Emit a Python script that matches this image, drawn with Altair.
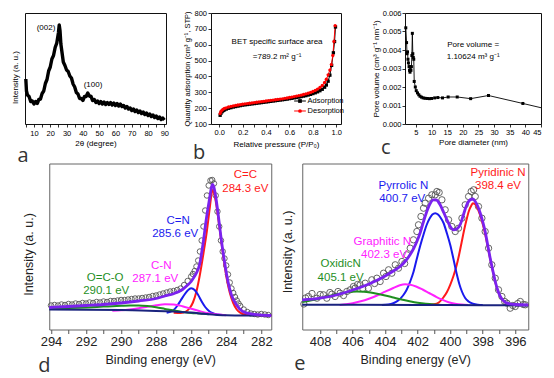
import altair as alt
import pandas as pd

FONT = "Liberation Sans"
LFONT = "Open Sans"

# ---------------- (a) XRD pattern ----------------
xrd_2theta = [5, 5.4, 6, 7, 8, 9, 10, 11, 12, 13, 14, 15, 16, 17, 18, 19, 20, 21, 22, 23, 24, 25, 25.5,
              26, 26.5, 27, 28, 29, 30, 31, 32, 33, 34, 35, 36, 37, 38, 39, 40, 41, 42, 43, 44, 45, 46,
              47, 48, 49, 50, 51, 52, 53, 54, 55, 56, 57, 58, 59, 60, 61, 62, 63, 64, 65, 66, 67, 68,
              69, 70, 71, 72, 73, 74, 75, 76, 77, 78, 79, 80, 81, 82, 83, 84, 85, 86, 87, 88, 89, 90]
xrd_intensity = [45, 33, 29, 27.5, 22.5, 23, 20, 22.5, 20.5, 24.5, 25, 30.5, 33, 40.5, 44.5, 53, 57, 65,
                 68.5, 76.5, 81, 91, 99, 93, 80, 74, 62, 58.5, 54, 52.5, 48, 46, 40, 37, 31.5, 30, 25.5,
                 25.5, 23.5, 27.5, 27.5, 31, 28, 27.5, 23.5, 24.5, 21.5, 23, 20.5, 22.5, 20, 22, 19.5,
                 21.5, 19.5, 21.5, 19, 21, 18.5, 20.5, 18, 20, 17.5, 18.5, 16, 17.5, 15, 16, 13.5, 15,
                 12.5, 14, 11.5, 13, 10.5, 12, 9.5, 11, 8.5, 10, 7.5, 9, 6.5, 8, 5.5, 7, 4.5, 6, 4]
xrd_peaks = ["(002)", "(100)"]

# ---------------- (b) N2 isotherm ----------------
ads_p = [0.008, 0.015, 0.025, 0.035, 0.045, 0.06, 0.08, 0.10, 0.12, 0.14, 0.16, 0.18, 0.20, 0.22, 0.24,
         0.26, 0.28, 0.30, 0.32, 0.34, 0.36, 0.38, 0.40, 0.42, 0.44, 0.46, 0.48, 0.50, 0.52, 0.54, 0.56,
         0.58, 0.60, 0.62, 0.64, 0.66, 0.68, 0.70, 0.72, 0.74, 0.76, 0.78, 0.80, 0.82, 0.84, 0.86, 0.88,
         0.90, 0.915, 0.93, 0.945, 0.96, 0.975, 0.985, 0.993]
ads_q = [155, 168, 178, 185, 189, 194, 199, 203, 207, 210, 213, 216, 219, 221, 223, 225, 227, 229, 231,
         233, 235, 237, 239, 241, 243, 245, 247, 249, 251, 253, 255, 257, 260, 262, 265, 267, 270, 273,
         276, 279, 283, 287, 292, 297, 303, 310, 319, 332, 346, 370, 408, 470, 549, 620, 712]
des_p = [0.008, 0.015, 0.025, 0.035, 0.045, 0.06, 0.08, 0.10, 0.12, 0.14, 0.16, 0.18, 0.20, 0.22, 0.24,
         0.26, 0.28, 0.30, 0.32, 0.34, 0.36, 0.38, 0.40, 0.42, 0.44, 0.46, 0.48, 0.50, 0.52, 0.54, 0.56,
         0.58, 0.60, 0.62, 0.64, 0.66, 0.68, 0.70, 0.72, 0.74, 0.76, 0.78, 0.80, 0.82, 0.84, 0.86, 0.88,
         0.90, 0.915, 0.93, 0.945, 0.958, 0.97, 0.98, 0.99]
des_q = [166, 179, 188, 194, 198, 202, 207, 211, 214, 217, 220, 222, 225, 227, 229, 231, 233, 235, 237,
         239, 241, 243, 245, 247, 249, 251, 253, 255, 257, 259, 262, 264, 267, 270, 273, 276, 279, 282,
         286, 290, 294, 299, 305, 312, 320, 330, 343, 362, 382, 410, 440, 475, 532, 621, 720]
iso_series = ["Adsorption", "Desorption"]

# ---------------- (c) pore size distribution ----------------
pore_d = [1.75, 2.0, 2.15, 2.3, 2.45, 2.6, 2.8, 2.95, 3.1, 3.25, 3.4, 3.55, 3.7, 3.85, 4.0, 4.15, 4.3,
          4.45, 4.8, 5.1, 5.5, 5.9, 6.3, 6.8, 7.3, 7.9, 8.6, 9.3, 10.0, 11.0, 12.0, 13.5, 15.3, 18.2,
          22.5, 28.2, 39.2, 45.0]
pore_v = [0.0052, 0.0044, 0.0038, 0.0039, 0.0035, 0.0033, 0.0031, 0.0029, 0.0028, 0.0031, 0.0029,
          0.0031, 0.0037, 0.0049, 0.0038, 0.0036, 0.0035, 0.0023, 0.0020, 0.0018, 0.00168, 0.00158,
          0.0015, 0.00145, 0.00141, 0.00139, 0.00138, 0.00137, 0.00138, 0.00141, 0.00143, 0.00141,
          0.00146, 0.00146, 0.00137, 0.00154, 0.00111, 0.00088]

# ---------------- (d) C 1s XPS ----------------
c1s_exp_E = [294.0, 293.8, 293.6, 293.4, 293.2, 293.0, 292.8, 292.6, 292.4, 292.2, 292.0, 291.8, 291.6,
             291.4, 291.2, 291.0, 290.8, 290.6, 290.4, 290.2, 290.0, 289.8, 289.6, 289.4, 289.2, 289.0,
             288.8, 288.6, 288.4, 288.2, 288.0, 287.8, 287.6, 287.4, 287.2, 287.0, 286.8, 286.6, 286.4,
             286.2, 286.0, 285.9, 285.8, 285.7, 285.6, 285.5, 285.4, 285.3, 285.2, 285.1, 285.0, 284.9,
             284.8, 284.7, 284.6, 284.5, 284.4, 284.3, 284.2, 284.1, 284.0, 283.9, 283.8, 283.7, 283.6,
             283.5, 283.4, 283.3, 283.2, 283.0, 282.8, 282.6, 282.4, 282.2, 282.0, 281.8, 281.6]
c1s_exp_I = [24, 24.5, 24, 25, 24.5, 25.5, 25, 26, 25.5, 26.5, 26, 27, 26.5, 27.5, 27, 28, 27.5, 28.5,
             28.5, 29, 29.5, 29.5, 30, 30.5, 31, 31, 31.5, 32, 32.5, 33.5, 34, 35, 36, 37, 38, 38.5,
             39.5, 41, 44.5, 48.5, 53, 55.5, 58.5, 63, 69, 78, 89, 103, 119, 134, 144, 149, 149.5, 146,
             134, 118, 103, 89, 78, 71, 64, 55, 47, 41, 36.5, 32.5, 29, 26, 23.5, 20, 17.5, 16, 15.5,
             15, 15.5, 15, 14.5]
c1s_env_E = [294.1, 293.0, 292.0, 291.0, 290.0, 289.0, 288.0, 287.5, 287.0, 286.5, 286.2, 286.0, 285.85,
             285.7, 285.52, 285.33, 285.14, 284.95, 284.85, 284.78, 284.7, 284.6, 284.48, 284.29, 284.1,
             283.9, 283.71, 283.43, 283.05, 282.48, 281.43]
c1s_env_I = [22, 23, 24, 25, 26.5, 28.5, 31, 33.5, 35.8, 40, 44.5, 48, 52, 56.5, 65, 85, 110, 131, 141.5,
             145, 142, 133, 118, 91, 68, 48, 35, 25, 18, 15.3, 14]
c1s_cc_E = [287.0, 286.6, 286.3, 286.1, 285.9, 285.7, 285.5, 285.3, 285.1, 284.95, 284.85, 284.78, 284.7,
            284.55, 284.4, 284.25, 284.1, 283.95, 283.8, 283.6, 283.4, 283.2, 283.0, 282.5, 281.43]
c1s_cc_I = [16.8, 16.5, 18, 21, 27, 38, 55, 76, 99, 120, 134, 139.5, 137, 123, 104, 84, 65, 49, 37, 26.5,
            20, 16.8, 15.2, 14.5, 14]
c1s_cn_E = [287.4, 287.2, 287.0, 286.8, 286.6, 286.4, 286.2, 286.0, 285.8, 285.6, 285.4, 285.2, 285.0,
            284.8, 284.5, 284.2]
c1s_cn_I = [16.8, 17.6, 19.5, 23.5, 29, 34.5, 39, 41.3, 39.5, 34.5, 28, 22.5, 18.8, 16.5, 15, 14.5]
c1s_csn_E = [290.5, 290.0, 289.5, 289.0, 288.5, 288.0, 287.5, 287.0, 286.5, 286.0, 285.5, 285.0, 284.5, 284.0]
c1s_csn_I = [18.8, 19.2, 20, 21.2, 22.7, 24.2, 25.3, 25, 23.3, 20.8, 18.3, 16.2, 15, 14.3]
c1s_oco_E = [294.1, 293.0, 292.0, 291.0, 290.0, 289.5, 289.0, 288.5, 288.0, 287.5, 287.0, 286.5, 286.0,
             285.5, 285.0]
c1s_oco_I = [21, 21.5, 22.1, 22.9, 23.7, 24, 24, 23.4, 22.2, 20.6, 19, 17.6, 16.6, 16, 15.3]
c1s_bg_E = [294.1, 292.0, 290.0, 288.0, 287.0, 286.0, 285.5, 285.0, 284.5, 284.0, 283.0, 281.43]
c1s_bg_I = [20, 19.8, 19.4, 18.6, 17.9, 16.9, 16.1, 15.2, 14.6, 14.2, 14, 14]
c1s_labels = ["C=C", "284.3 eV", "C=N", "285.6 eV", "C-N", "287.1 eV", "O=C-O", "290.1 eV"]

# ---------------- (e) N 1s XPS ----------------
n1s_exp_E = [409.0, 408.9, 408.72, 408.5, 408.2, 408.0, 407.8, 407.59, 407.4, 407.28, 407.08, 406.9,
             406.77, 406.56, 406.36, 406.15, 405.95, 405.85, 405.7, 405.54, 405.38, 405.23, 405.03,
             404.82, 404.65, 404.51, 404.31, 404.1, 403.95, 403.79, 403.59, 403.38, 403.18, 402.97,
             402.8, 402.67, 402.46, 402.26, 402.05, 401.95, 401.8, 401.64, 401.54, 401.33, 401.13,
             400.92, 400.82, 400.68, 400.51, 400.31, 400.1, 399.9, 399.69, 399.49, 399.28, 399.08,
             398.87, 398.71, 398.56, 398.46, 398.26, 398.05, 397.85, 397.64, 397.44, 397.23, 397.03,
             396.82, 396.65, 396.51, 396.31, 396.15, 396.0, 395.85, 395.69, 395.5, 395.38]
n1s_exp_I = [25.5, 31.5, 33, 36, 31.3, 35, 34.7, 31.3, 37, 35.3, 33, 38, 36.3, 34, 38, 39.7, 43, 41.3,
             45, 44.7, 41, 46.3, 41.3, 49.7, 46, 51.3, 48, 56.3, 53, 59.7, 56.3, 64.7, 61.3, 68, 66,
             74.7, 81.3, 89.7, 98, 104.7, 113, 121.3, 126.3, 131.3, 134.7, 134.7, 138, 137, 129.7,
             119.7, 109.7, 103, 98, 101.3, 111.3, 124.7, 133, 138, 139.7, 133, 123, 111.3, 98, 81.3,
             64.7, 51.3, 39.7, 33, 28, 26.3, 21.3, 24, 23, 26, 28, 25, 24.7]
n1s_env_E = [409.1, 408.0, 407.0, 406.0, 405.0, 404.0, 403.5, 403.08, 402.75, 402.46, 402.25, 402.05,
             401.84, 401.64, 401.45, 401.25, 401.03, 400.85, 400.62, 400.4, 400.2, 400.0, 399.8, 399.6,
             399.38, 399.2, 399.0, 398.77, 398.6, 398.46, 398.3, 398.15, 398.0, 397.85, 397.7, 397.54,
             397.38, 397.23, 397.08, 396.92, 396.7, 396.51, 396.0, 395.2]
n1s_env_I = [29.5, 31.3, 34.5, 39.5, 45.5, 53.5, 58.5, 63, 68.5, 75, 81, 88, 97, 108, 117.5, 125.5,
             129.7, 129.5, 124.7, 117, 109.7, 103, 99.7, 100.5, 105, 114, 124, 129.7, 130.5, 128, 123,
             116.3, 108, 98, 85, 71.3, 59, 48, 39.5, 33, 28.5, 26.3, 25, 24.7]
n1s_pyd_E = [401.4, 401.0, 400.7, 400.4, 400.2, 400.0, 399.8, 399.6, 399.45, 399.3, 399.15, 399.0, 398.85,
             398.7, 398.6, 398.45, 398.3, 398.15, 398.0, 397.85, 397.7, 397.54, 397.38, 397.23, 397.08,
             396.92, 396.7, 396.5, 396.2, 395.8, 395.2]
n1s_pyd_I = [24.6, 25.2, 27, 32.5, 37.5, 44.7, 53.5, 64.5, 75, 87, 99, 109.5, 118.5, 124, 126.3, 125,
             120.5, 114, 105.5, 95.5, 83.5, 70.5, 58.5, 47.5, 39, 33, 28.3, 26, 25, 24.6, 24.5]
n1s_pyr_E = [404.2, 403.8, 403.5, 403.2, 402.9, 402.7, 402.46, 402.25, 402.05, 401.84, 401.64, 401.45,
             401.25, 401.1, 400.92, 400.75, 400.6, 400.41, 400.2, 400.0, 399.8, 399.59, 399.43, 399.28,
             399.08, 398.87, 398.6, 398.3, 398.0]
n1s_pyr_I = [24.5, 25, 26.3, 29, 34, 39, 48, 58, 71, 84, 95, 104.5, 111.5, 115, 116.3, 115, 112, 106.5,
             96, 84.7, 70.5, 55, 45, 38, 31.5, 28, 25.8, 24.8, 24.5]
n1s_gra_E = [406.8, 406.4, 406.0, 405.5, 405.0, 404.5, 404.0, 403.5, 403.1, 402.77, 402.45, 402.1,
             401.7, 401.3, 400.9, 400.5, 400.1, 399.7, 399.3, 398.9]
n1s_gra_I = [24.6, 25.3, 26.3, 28.2, 30.8, 34, 37.8, 41.5, 44.3, 45.3, 44.8, 43, 40, 36.5, 33, 29.8,
             27.3, 25.8, 24.9, 24.5]
n1s_oxi_E = [409.1, 408.6, 408.1, 407.6, 407.1, 406.6, 406.1, 405.74, 405.3, 404.9, 404.5, 404.0, 403.5,
             403.0, 402.5, 402.0, 401.5, 401.0, 400.5, 400.0]
n1s_oxi_I = [27.5, 29, 30.8, 32.8, 34.8, 36.5, 37.7, 38, 37.8, 37, 35.8, 34, 32, 30, 28.3, 26.8, 25.7,
             25, 24.6, 24.4]
n1s_bg_E = [409.1, 402.0, 398.0, 395.2]
n1s_bg_I = [24.8, 24.6, 24.3, 24.1]
n1s_labels = ["Pyridinic N", "398.4 eV", "Pyrrolic N", "400.7 eV", "Graphitic N", "402.3 eV",
              "OxidicN", "405.1 eV"]

panel_letters = ["a", "b", "c", "d", "e"]

RED, BLUE, MAG, GRN, PUR, NAVY = "#ff1a1a", "#1a1aee", "#ff22ff", "#1f8f1f", "#7b22ee", "#1a237e"


def top_axis(title, **kw):
    d = dict(title=title, grid=False, domain=False, labelFont=FONT, titleFont=FONT,
             titleFontWeight="normal", labelFontSize=7.5, titleFontSize=8, labelColor="#000",
             titleColor="#000", tickColor="#000", tickSize=3, tickWidth=0.8, labelOverlap=False)
    d.update(kw)
    return alt.Axis(**d)


def bot_axis(title, **kw):
    d = dict(title=title, grid=False, domain=False, labelFont=FONT, titleFont=FONT,
             titleFontWeight="normal", labelFontSize=13, titleFontSize=12.5, labelColor="#222",
             titleColor="#222", tickColor="#555", tickSize=4, tickWidth=1, labelOverlap=False)
    d.update(kw)
    return alt.Axis(**d)


def letter(t, orient, dx, dy):
    return alt.TitleParams(t, orient=orient, anchor="start", frame="group", font=LFONT,
                           fontSize=20, fontWeight="normal", color="#333", dx=dx, dy=dy,
                           offset=0, baseline="alphabetic")


TOPVIEW = alt.ViewBackground(stroke="#111", strokeWidth=1)
BOTVIEW = alt.ViewBackground(stroke="#666", strokeWidth=1)

# ---- panel a ----
df_a = pd.DataFrame({"x": xrd_2theta, "y": xrd_intensity})
xa = alt.X("x:Q", scale=alt.Scale(domain=[4.5, 91], nice=False, zero=False),
           axis=top_axis("2θ (degree)", values=list(range(5, 91, 5)),
                         labelExpr="datum.value % 10 == 0 ? datum.label : ''",
                         labelPadding=2, titlePadding=2.5))
ya = alt.Y("y:Q", scale=alt.Scale(domain=[0, 111], nice=False, zero=False),
           axis=top_axis("Intensity (a. u.)", labels=False, ticks=False, titlePadding=5.25, titleY=64))
a_line = alt.Chart(df_a).mark_line(color="black", strokeWidth=3.4, strokeJoin="round").encode(x=xa, y=ya)
a_lab = alt.Chart(pd.DataFrame({"x": [17.4, 46.2], "y": [96, 39], "t": xrd_peaks})).mark_text(
    font=FONT, fontSize=8, color="black").encode(x=xa, y=ya, text="t:N")
panel_a = alt.layer(a_line, a_lab).properties(width=141, height=111, view=TOPVIEW)

# ---- panel b ----
df_b = pd.concat([pd.DataFrame({"p": ads_p, "q": ads_q, "s": iso_series[0]}),
                  pd.DataFrame({"p": des_p, "q": des_q, "s": iso_series[1]})])
xb = alt.X("p:Q", scale=alt.Scale(domain=[-0.07, 1.04], nice=False, zero=False),
           axis=top_axis("Relative pressure (P/P₀)",
                         values=[0, 0.1, 0.2, 0.3, 0.4, 0.5, 0.6, 0.7, 0.8, 0.9, 1.0],
                         labelExpr="round(datum.value*10) % 2 == 0 ? format(datum.value, '.1f') : ''",
                         labelPadding=1.5, titlePadding=4))
yb = alt.Y("q:Q", scale=alt.Scale(domain=[100, 800], nice=False, zero=False),
           axis=top_axis("Quantity adsorption (cm³ g⁻¹, STP)",
                         values=[100, 200, 300, 400, 500, 600, 700, 800], labelPadding=1.5,
                         titlePadding=2.5, titleFontSize=7.5))
cscale_b = alt.Scale(domain=iso_series, range=["#000000", "#ff0000"])
sscale_b = alt.Scale(domain=iso_series, range=["square", "circle"])
b_line = alt.Chart(df_b).mark_line(strokeWidth=1).encode(
    x=xb, y=yb, color=alt.Color("s:N", scale=cscale_b, legend=None), order="p:Q")
b_pts = alt.Chart(df_b).mark_point(filled=True, size=11, opacity=1).encode(
    x=xb, y=yb, color=alt.Color("s:N", scale=cscale_b, legend=None),
    shape=alt.Shape("s:N", scale=sscale_b, legend=None))
b_lab = alt.Chart(pd.DataFrame({"p": [0.494, 0.494], "q": [617, 522],
                                "t": ["BET specific surface area", "=789.2 m² g⁻¹"]})).mark_text(
    font=FONT, fontSize=8, color="black").encode(x=xb, y=yb, text="t:N")
# in-plot key (line + marker + name), drawn through the same scales
key_rows = pd.DataFrame({"p": [0.64, 0.64], "p2": [0.74, 0.74], "q": [245, 182], "s": iso_series})
key_pts = pd.DataFrame({"p": [0.69, 0.69], "q": [245, 182], "s": iso_series})
key_txt = pd.DataFrame({"p": [0.755, 0.755], "q": [245, 182], "s": iso_series})
b_key_line = alt.Chart(key_rows).mark_rule(strokeWidth=1).encode(
    x=xb, x2="p2:Q", y=yb, color=alt.Color("s:N", scale=cscale_b, legend=None))
b_key_pts = alt.Chart(key_pts).mark_point(filled=True, size=14, opacity=1).encode(
    x=xb, y=yb, color=alt.Color("s:N", scale=cscale_b, legend=None),
    shape=alt.Shape("s:N", scale=sscale_b, legend=None))
b_key_txt = alt.Chart(key_txt).mark_text(font=FONT, fontSize=7.5, align="left", baseline="middle",
                                         color="black").encode(x=xb, y=yb, text="s:N")
panel_b = alt.layer(b_line, b_pts, b_lab, b_key_line, b_key_pts, b_key_txt).properties(
    width=130, height=111, view=TOPVIEW)

# ---- panel c ----
df_c = pd.DataFrame({"d": pore_d, "v": pore_v})
xc = alt.X("d:Q", scale=alt.Scale(domain=[1.5, 45], nice=False, zero=False),
           axis=top_axis("Pore diameter (nm)", values=[5, 10, 15, 20, 25, 30, 35, 40, 45],
                         labelPadding=1, titlePadding=2.5))
yc = alt.Y("v:Q", scale=alt.Scale(domain=[0, 0.006], nice=False, zero=False),
           axis=top_axis("Pore volume (cm³ g⁻¹ nm⁻¹)",
                         values=[0, 0.001, 0.002, 0.003, 0.004, 0.005, 0.006], format=".3f",
                         labelPadding=1, titlePadding=1.5))
c_line = alt.Chart(df_c).mark_line(color="black", strokeWidth=0.9).encode(x=xc, y=yc, order="d:Q")
c_pts = alt.Chart(df_c).transform_filter("datum.d < 44.5").mark_point(
    shape="square", filled=True, size=9, color="black", opacity=1).encode(x=xc, y=yc)
c_lab = alt.Chart(pd.DataFrame({"d": [23.3, 23.3], "v": [0.00427, 0.00362],
                                "t": ["Pore volume =", "1.10624 m³ g⁻¹"]})).mark_text(
    font=FONT, fontSize=8, color="black").encode(x=xc, y=yc, text="t:N")
panel_c = alt.layer(c_line, c_pts, c_lab).properties(width=136, height=111, view=TOPVIEW)


# ---- XPS helpers ----
def comp_frame(parts):
    return pd.concat([pd.DataFrame({"E": e, "I": i, "k": k}) for k, e, i in parts])


def xps_panel(xdom, ticks, exp_E, exp_I, env_E, env_I, parts, bg_E, bg_I, labels, lab_E, lab_I,
              lab_c, width, ytitle_pad, ytitle_y, circ_size, let, let_dx, let_dy, up_let, up_E, up_I):
    x = alt.X("E:Q", scale=alt.Scale(domain=xdom, reverse=True, nice=False, zero=False),
              axis=bot_axis("Binding energy (eV)", values=ticks,
                            labelExpr="datum.value % 2 == 0 ? datum.label : ''",
                            labelPadding=1.5, titlePadding=5))
    y = alt.Y("I:Q", scale=alt.Scale(domain=[0, 166], nice=False, zero=False),
              axis=bot_axis("Intensity (a. u.)", labels=False, ticks=False,
                            titlePadding=ytitle_pad, titleY=ytitle_y))
    pts = alt.Chart(pd.DataFrame({"E": exp_E, "I": exp_I})).mark_point(
        shape="circle", filled=False, size=circ_size, stroke="#555", strokeWidth=1, opacity=0.9
    ).encode(x=x, y=y)
    dfc = comp_frame(parts)
    keys = [p[0] for p in parts]
    comps = alt.Chart(dfc).mark_line(strokeWidth=2, interpolate="monotone").encode(
        x=x, y=y,
        color=alt.Color("k:N", scale=alt.Scale(domain=keys, range=[RED, BLUE, MAG, GRN]), legend=None),
        order=alt.Order("E:Q", sort="descending"))
    bg = alt.Chart(pd.DataFrame({"E": bg_E, "I": bg_I})).mark_line(
        strokeWidth=2, color=NAVY, interpolate="monotone").encode(
        x=x, y=y, order=alt.Order("E:Q", sort="descending"))
    env = alt.Chart(pd.DataFrame({"E": env_E, "I": env_I})).mark_line(
        strokeWidth=2.8, color=PUR, interpolate="monotone").encode(
        x=x, y=y, order=alt.Order("E:Q", sort="descending"))
    lab = alt.Chart(pd.DataFrame({"E": lab_E, "I": lab_I, "t": labels, "c": lab_c})).mark_text(
        font=FONT, fontSize=11.5, baseline="middle").encode(
        x=x, y=y, text="t:N", color=alt.Color("c:N", scale=None, legend=None))
    # letters of the upper panels that sit just above this one
    up = alt.Chart(pd.DataFrame({"E": up_E, "I": up_I, "t": up_let})).mark_text(
        font=LFONT, fontSize=20, color="#333", align="center", baseline="alphabetic").encode(
        x=x, y=y, text="t:N")
    return alt.layer(pts, comps, bg, env, lab, up).resolve_scale(color="independent").properties(
        width=width, height=166, title=letter(let, "bottom", let_dx, let_dy), view=BOTVIEW)


panel_d = xps_panel(
    [281.43, 294.1], list(range(282, 295)), c1s_exp_E, c1s_exp_I, c1s_env_E, c1s_env_I,
    [("C=C", c1s_cc_E, c1s_cc_I), ("C=N", c1s_cn_E, c1s_cn_I), ("C-N", c1s_csn_E, c1s_csn_I),
     ("O=C-O", c1s_oco_E, c1s_oco_I)],
    c1s_bg_E, c1s_bg_I, c1s_labels,
    [282.91, 282.91, 286.74, 286.91, 287.71, 288.05, 290.91, 290.85],
    [155, 141, 109, 96, 64, 51, 52, 39],
    [RED, RED, BLUE, BLUE, MAG, MAG, GRN, GRN],
    222, 13.75, 90.5, 30, panel_letters[3], -11, 6,
    [panel_letters[0], panel_letters[1]], [295.6, 285.54], [168, 171])

panel_e = xps_panel(
    [395.2, 409.1], list(range(396, 409)), n1s_exp_E, n1s_exp_I, n1s_env_E, n1s_env_I,
    [("Pyridinic N", n1s_pyd_E, n1s_pyd_I), ("Pyrrolic N", n1s_pyr_E, n1s_pyr_I),
     ("Graphitic N", n1s_gra_E, n1s_gra_I), ("OxidicN", n1s_oxi_E, n1s_oxi_I)],
    n1s_bg_E, n1s_bg_I, n1s_labels,
    [397.06, 397.06, 402.88, 402.95, 404.18, 404.07, 406.74, 406.74],
    [156.3, 143.7, 143.7, 130.7, 88, 74.7, 65.3, 52],
    [RED, RED, BLUE, BLUE, MAG, MAG, GRN, GRN],
    226, 7.75, 88, 40, panel_letters[4], -8, 4,
    [panel_letters[2]], [403.96], [176])

# an empty 1-px cell that fixes where the lower row starts
spacer = alt.Chart(pd.DataFrame({"z": [0]})).mark_point(size=0, opacity=0).encode(
    x=alt.X("z:Q", axis=None), y=alt.Y("z:Q", axis=None)).properties(
    width=1, height=1, view=alt.ViewBackground(stroke="transparent"))

top_ab = alt.hconcat(panel_a, panel_b, spacing=12)
top = alt.hconcat(top_ab, panel_c, spacing=27)
bottom_de = alt.hconcat(panel_d, panel_e, spacing=2)
bottom = alt.hconcat(spacer, bottom_de, spacing=-10.75)
chart = alt.vconcat(top, bottom, spacing=-12.5).properties(
    padding={"left": 3, "top": 0, "right": 2, "bottom": 0}
).configure(background="white", font=FONT)

chart.save("out.html", embed_options={"renderer": "svg", "actions": False})
